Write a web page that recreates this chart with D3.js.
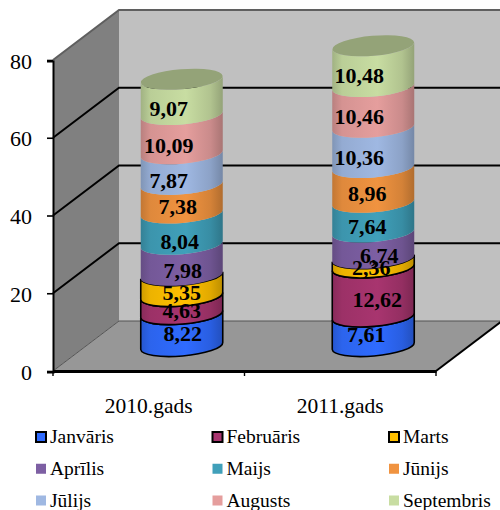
<!DOCTYPE html>
<html>
<head>
<meta charset="utf-8">
<script src="https://cdn.jsdelivr.net/npm/d3@7"></script>
<style>
  html, body { margin: 0; padding: 0; background: #fff; }
  svg { display: block; font-family: 'Liberation Serif', serif; }
</style>
</head>
<body>
<div id="chart"></div>
<script>
const years = ['2010.gads', '2011.gads'];
const months = ['Janvāris', 'Februāris', 'Marts', 'Aprīlis', 'Maijs', 'Jūnijs', 'Jūlijs', 'Augusts', 'Septembris'];
const values2010 = [8.22, 4.63, 5.35, 7.98, 8.04, 7.38, 7.87, 10.09, 9.07];
const values2011 = [7.61, 12.62, 2.36, 6.74, 7.64, 8.96, 10.36, 10.46, 10.48];
const yTicks = [0, 20, 40, 60, 80];
const colors = ['#2f6bff', '#a8356f', '#ffc000', '#7d5fa3', '#40a0ba', '#f09340', '#9fb8e2', '#e59e9d', '#c8dda2'];

//The labels were dragged around by hand in the original, so each has its own nudge
const labelNudge = [
  [[1, 4], [0, 6], [0, 7], [1, 11], [-2, 13], [-4, 8], [-13, 12], [-13, 12], [-13, 12]],
  [[-7, 4], [4, 8], [-2, 5], [6, 11], [-6, 10], [-6, 9], [-14, 10], [-14, 10], [-14, 10]]
];

const width = 500, height = 510;
const depthX = 66, depthY = 50;
const cylRx = 41, cylRy = 10, cylTilt = 3.5;

const svg = d3.select('#chart').append('svg')
  .attr('width', width)
  .attr('height', height);

const defs = svg.append('defs');

const x = d3.scaleBand().domain(years).range([53, 436]);
const y = d3.scaleLinear().domain([0, 80]).range([371, 60]);

//Walls and floor
const wallTop = y(80) - depthY;
const wallBottom = y(0) - depthY;
const g = svg.append('g').attr('class', 'walls');

g.append('rect')
  .attr('x', x.range()[0] + depthX)
  .attr('y', wallTop)
  .attr('width', width - x.range()[0] - depthX)
  .attr('height', wallBottom - wallTop)
  .attr('fill', '#c0c0c0');

g.append('polygon')
  .attr('points', [
    [53, y(80)], [53 + depthX, wallTop], [53 + depthX, wallBottom], [53, y(0)]
  ].join(' '))
  .attr('fill', '#808080');

g.append('polygon')
  .attr('points', [
    [53, y(0)], [53 + depthX, wallBottom], [436 + depthX, wallBottom], [436, y(0)]
  ].join(' '))
  .attr('fill', '#979797');

//Gridlines run along the side wall and then across the back wall
const line = d3.line();
g.selectAll('.grid')
  .data(yTicks)
  .enter()
  .append('path')
  .attr('class', 'grid')
  .attr('fill', 'none')
  .attr('stroke', (d) => d === 80 ? '#5f5f5f' : (d === 0 ? '#555' : '#000'))
  .attr('stroke-width', (d) => d === 0 ? 1 : 2)
  .attr('d', (d) => line([[53, y(d)], [53 + depthX, y(d) - depthY], [width, y(d) - depthY]]));

//Right edge of the floor
g.append('line')
  .attr('x1', 436).attr('y1', y(0))
  .attr('x2', 436 + depthX).attr('y2', wallBottom)
  .attr('stroke', '#000')
  .attr('stroke-width', 2);

//Cylinders
colors.forEach((c, i) => {
  const base = d3.color(c);
  const grad = defs.append('linearGradient').attr('id', 'band-' + i);
  grad.append('stop').attr('offset', '0%').attr('stop-color', base.darker(0.6));
  grad.append('stop').attr('offset', '12%').attr('stop-color', base.darker(0.2));
  grad.append('stop').attr('offset', '55%').attr('stop-color', base);
  grad.append('stop').attr('offset', '85%').attr('stop-color', base.darker(0.35));
  grad.append('stop').attr('offset', '100%').attr('stop-color', base.darker(0.85));
});

const rotate = -Math.atan2(cylTilt, cylRx) * 180 / Math.PI;

function frontArc(cx, cy, reverse) {
  const arc = 'A' + cylRx + ',' + cylRy + ' ' + rotate + ' 0 ' + (reverse ? 1 : 0) + ' ';
  return reverse
    ? arc + (cx - cylRx) + ',' + (cy + cylTilt)
    : arc + (cx + cylRx) + ',' + (cy - cylTilt);
}

function bandPath(cx, y0, y1) {
  return 'M' + (cx - cylRx) + ',' + (y0 + cylTilt)
    + frontArc(cx, y0, false)
    + 'L' + (cx + cylRx) + ',' + (y1 - cylTilt)
    + frontArc(cx, y1, true)
    + 'Z';
}

const yBase = y(0) - depthY / 2;
const unit = y(0) - y(1);

[values2010, values2011].forEach((vals, col) => {
  const cx = x(years[col]) + x.bandwidth() / 2 + depthX / 2;
  const stack = d3.cumsum(vals);
  const group = svg.append('g').attr('class', 'cylinder');

  group.selectAll('.band')
    .data(vals)
    .enter()
    .append('path')
    .attr('class', 'band')
    .attr('fill', (d, i) => 'url(#band-' + i + ')')
    .attr('stroke', (d, i) => i < 3 ? '#000' : 'none')
    .attr('stroke-width', 1.6)
    .attr('d', (d, i) => bandPath(cx, yBase - (stack[i] - d) * unit, yBase - stack[i] * unit));

  group.append('ellipse')
    .attr('rx', cylRx)
    .attr('ry', cylRy)
    .attr('fill', d3.color(colors[8]).darker(0.85))
    .attr('transform', 'translate(' + cx + ',' + (yBase - stack[8] * unit) + ') rotate(' + rotate + ')');

  group.selectAll('.value')
    .data(vals)
    .enter()
    .append('text')
    .attr('class', 'value')
    .attr('text-anchor', 'middle')
    .attr('font-size', 22)
    .attr('font-weight', 'bold')
    .attr('fill', '#000')
    .attr('x', (d, i) => cx + labelNudge[col][i][0])
    .attr('y', (d, i) => yBase - (stack[i] - d / 2) * unit + labelNudge[col][i][1])
    .attr('dy', '0.33em')
    .text((d) => d.toFixed(2).replace('.', ','));
});

//Axes
const yAxis = svg.append('g')
  .attr('class', 'axis axis-y')
  .attr('transform', 'translate(53,1)')
  .call(d3.axisLeft(y).tickValues(yTicks).tickSize(6).tickPadding(15));

yAxis.select('.domain').attr('stroke', '#000').attr('stroke-width', 2);
yAxis.selectAll('.tick line').attr('transform', 'translate(0,-1)').attr('stroke', '#000').attr('stroke-width', 1.6);
yAxis.selectAll('.tick text')
  .attr('fill', '#000')
  .style('font-family', 'Liberation Serif')
  .style('font-size', '22px');

const xAxis = svg.append('g')
  .attr('class', 'axis axis-x')
  .attr('transform', 'translate(0,' + y(0) + ')')
  .call(d3.axisBottom(x).tickSize(0).tickPadding(27).tickSizeOuter(0));

xAxis.select('.domain').attr('stroke', '#000').attr('stroke-width', 3);
xAxis.selectAll('.tick text')
  .attr('fill', '#000')
  .style('font-family', 'Liberation Serif')
  .style('font-size', '21.5px');

xAxis.selectAll('.edge')
  .data([x.range()[0], x(years[1]), x.range()[1]])
  .enter()
  .append('line')
  .attr('class', 'edge')
  .attr('x1', (d) => d).attr('x2', (d) => d)
  .attr('y1', 0).attr('y2', 5)
  .attr('stroke', '#000')
  .attr('stroke-width', 1.4);

//Legend
const legendX = d3.scalePoint().domain([0, 1, 2]).range([36, 389]);
const legendY = d3.scalePoint().domain([0, 1, 2]).range([437, 500.5]);

const item = svg.selectAll('.legend')
  .data(months)
  .enter()
  .append('g')
  .attr('class', 'legend')
  .attr('transform', (d, i) => 'translate(' + legendX(i % 3) + ',' + legendY(Math.floor(i / 3)) + ')');

item.append('rect')
  .attr('x', 0).attr('y', -5)
  .attr('width', 10).attr('height', 10)
  .attr('fill', (d, i) => colors[i])
  .attr('stroke', (d, i) => i < 3 ? '#000' : 'none')
  .attr('stroke-width', 2);

item.append('text')
  .attr('x', 14)
  .attr('dy', '0.33em')
  .attr('font-size', 19.5)
  .attr('fill', '#000')
  .text((d) => d);
</script>
</body>
</html>
